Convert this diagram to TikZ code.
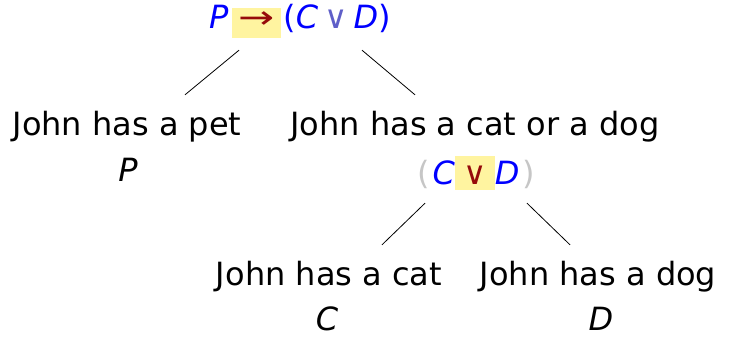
\documentclass[tikz,border=0pt]{standalone}
\usepackage{fontspec}
\setmainfont{DejaVu Sans}
\usepackage{graphicx}
\usepackage{tikz}

\definecolor{hlyellow}{RGB}{255,244,160}
\definecolor{opred}{RGB}{150,10,10}
\definecolor{opblue}{RGB}{95,95,200}
\newcommand{\hlop}[4]{{\setlength{\fboxsep}{0pt}\colorbox{hlyellow}{\makebox[#1]{\rule[-#3]{0pt}{#2}\textcolor{opred}{#4}}}}}

\begin{document}
\begin{tikzpicture}[x=1pt,y=-1pt,
  every node/.style={font=\fontsize{32}{38}\selectfont,anchor=base,inner xsep=0pt},
  txt/.style={text height=24pt,text depth=8pt,inner ysep=16pt},
  frm/.style={text height=21pt,text depth=9pt,inner ysep=12pt},
  atom/.style={inner sep=0pt,font=\fontsize{32}{38}\selectfont\itshape}]
  \useasboundingbox (0,0) rectangle (743,337);
  \node[frm] (top) at (300,29) {\textcolor{blue}{\itshape P}\hspace{4pt}\hlop{49pt}{30pt}{9pt}{\scalebox{1.35}[1]{→}}\hspace{2pt}\textcolor{blue}{(\itshape C\upshape\hspace{6pt}\textcolor{opblue}{∨}\hspace{6pt}\itshape D\upshape)}};
  \node[txt] (pet) at (127,135) {John has a pet};
  \node[txt] (catdog) at (475,135) {John has a cat or a dog};
  \node[atom] (p) at (128,181) {P};
  \node[frm,text depth=7pt] (cord) at (476,184) {\textcolor{gray!45}{(}\hspace{3pt}\textcolor{blue}{\itshape C}\hlop{40pt}{34pt}{6pt}{∨}\textcolor{blue}{\itshape D}\hspace{3pt}\textcolor{gray!45}{)}};
  \node[txt] (cat) at (329,285) {John has a cat};
  \node[txt] (dog) at (598,285) {John has a dog};
  \node[atom] (c) at (327,330) {C};
  \node[atom] (d) at (601,330) {D};
  \draw[line width=0.8pt] ([xshift=-61pt]top.south) -- ([xshift=58pt]pet.north);
  \draw[line width=0.8pt] ([xshift=62pt]top.south) -- ([xshift=-60pt]catdog.north);
  \draw[line width=0.8pt] ([xshift=-51pt]cord.south) -- ([xshift=53pt]cat.north);
  \draw[line width=0.8pt] ([xshift=51pt]cord.south) -- ([xshift=-28pt]dog.north);
\end{tikzpicture}
\end{document}
